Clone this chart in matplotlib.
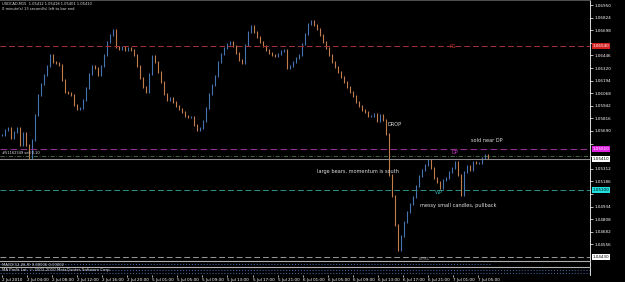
import numpy as np
import matplotlib.pyplot as plt

W, H = 625, 282

# USDCAD M15 closes (every ~2 bars)
closes = [
    1.0565, 1.0570, 1.0572, 1.0562, 1.0568, 1.0572, 1.0555, 1.0567, 1.0555, 1.0542,
    1.0560, 1.0585, 1.0605, 1.0616, 1.0625, 1.0634, 1.0645, 1.0638, 1.0637, 1.0635,
    1.0620, 1.0608, 1.0607, 1.0605, 1.0595, 1.0591, 1.0592, 1.0600, 1.0612, 1.0626,
    1.0634, 1.0632, 1.0625, 1.0634, 1.0645, 1.0658, 1.0665, 1.0670, 1.0653, 1.0651,
    1.0653, 1.0650, 1.0652, 1.0650, 1.0645, 1.0634, 1.0622, 1.0613, 1.0608, 1.0626,
    1.0644, 1.0638, 1.0628, 1.0618, 1.0606, 1.0600, 1.0602, 1.0598, 1.0594, 1.0591,
    1.0588, 1.0584, 1.0583, 1.0583, 1.0575, 1.0570, 1.0572, 1.0579, 1.0592, 1.0606,
    1.0615, 1.0624, 1.0638, 1.0646, 1.0652, 1.0656, 1.0658, 1.0654, 1.0647, 1.0640,
    1.0637, 1.0655, 1.0668, 1.0674, 1.0668, 1.0663, 1.0658, 1.0654, 1.0650, 1.0647,
    1.0645, 1.0644, 1.0646, 1.0649, 1.0650, 1.0632, 1.0634, 1.0638, 1.0642, 1.0645,
    1.0656, 1.0666, 1.0676, 1.0679, 1.0675, 1.0671, 1.0665, 1.0658, 1.0652, 1.0645,
    1.0638, 1.0633, 1.0628, 1.0623, 1.0618, 1.0613, 1.0608, 1.0604, 1.0598, 1.0594,
    1.0590, 1.0588, 1.0584, 1.0584, 1.0586, 1.0579, 1.0585, 1.0580, 1.0566, 1.0525,
    1.0504, 1.0475, 1.0450, 1.0464, 1.0478, 1.0488, 1.0496, 1.0503, 1.0514, 1.0524,
    1.0530, 1.0535, 1.0540, 1.0532, 1.0522, 1.0518, 1.0512, 1.0520, 1.0522, 1.0528,
    1.0532, 1.0538, 1.0525, 1.0505, 1.0528, 1.0534, 1.0530, 1.0538, 1.0537, 1.0537,
    1.0542, 1.0545, 1.0542,
]

price_ticks = [1.06950, 1.06824, 1.06698, 1.06572, 1.06446, 1.06320, 1.06194,
               1.06068, 1.05942, 1.05816, 1.05690, 1.05564, 1.05438, 1.05312,
               1.05186, 1.05060, 1.04934, 1.04808, 1.04682, 1.04556]

time_labels = ["2 Jul 2010", "2 Jul 04:00", "2 Jul 08:00", "2 Jul 12:00",
               "2 Jul 16:00", "2 Jul 20:00", "5 Jul 01:00", "5 Jul 05:00",
               "5 Jul 09:00", "5 Jul 13:00", "5 Jul 17:00", "5 Jul 21:00",
               "6 Jul 01:00", "6 Jul 05:00", "6 Jul 09:00", "6 Jul 13:00",
               "6 Jul 17:00", "6 Jul 21:00", "7 Jul 01:00", "7 Jul 05:00"]

# horizontal levels
r1_level = 1.0654
dp_level = 1.0551
order_level = 1.0544
bid_level = 1.0541
wp_level = 1.0510
s1_level = 1.0443


def fx(x):
    return x / W


def fy(y):
    return 1 - y / H


fig = plt.figure(figsize=(W / 100, H / 100), dpi=100, facecolor='black')
ax = fig.add_axes([0, fy(261), fx(590), 261 / H], facecolor='black')

n = len(closes)
c = np.array(closes)
o = np.r_[c[0], c[:-1]]
x = np.arange(n)
lo = np.minimum(o, c) - 0.0001
hi = np.maximum(o, c) + 0.0001
up = c >= o
ax.vlines(x[up], lo[up], hi[up], color='#4674b2', lw=0.8)
ax.vlines(x[~up], lo[~up], hi[~up], color='#c27d4a', lw=0.8)

ax.set_xlim(-2 / 3, 588 / 3)
ax.set_ylim(1.0439, 1.0700)

ax.axhline(r1_level, color='#a83232', ls=(0, (6, 3)), lw=0.7)
ax.axhline(dp_level, color='#8e2e8e', ls=(0, (6, 3)), lw=0.8)
ax.axhline(order_level, color='#4f7a4f', ls=(0, (5, 2, 1, 2)), lw=0.6)
ax.axhline(bid_level, color='#8a8a8a', ls='-', lw=0.8)
ax.axhline(wp_level, color='#2f8f8a', ls=(0, (6, 3)), lw=0.7)
ax.axhline(s1_level, color='#9a9a9a', ls=(0, (6, 3)), lw=0.7)

box_levels = [r1_level, dp_level, bid_level, wp_level, s1_level]
ax.yaxis.tick_right()
ax.set_yticks(price_ticks)
# labels hidden under the coloured price boxes are left blank
ax.set_yticklabels(["" if min(abs(p - b) for b in box_levels) < 0.0006 else f"{p:.5f}"
                    for p in price_ticks])
ax.tick_params(axis='y', colors='white', labelsize=3.0, length=2, width=0.5, pad=1)
ax.set_xticks([])
for s in ['left', 'bottom']:
    ax.spines[s].set_visible(False)
ax.spines['right'].set_color('white')
ax.spines['right'].set_linewidth(0.6)
ax.spines['top'].set_color('#606060')
ax.spines['top'].set_linewidth(1.2)

boxes = [(r1_level, '#d02020', 'white'), (dp_level, '#e020e0', 'white'),
         (bid_level, 'white', 'black'), (wp_level, '#20e0e0', 'black'),
         (s1_level, 'white', 'black')]
for p, bc, tc in boxes:
    ax.annotate(f"{p:.5f}", xy=(1.004, p), xycoords=('axes fraction', 'data'),
                fontsize=3.0, color=tc, va='center', ha='left',
                bbox=dict(boxstyle='square,pad=0.15', fc=bc, ec='none'))

txt = dict(color='#e0e0e0', fontsize=3.6, va='center', ha='left')
small = dict(color='#e0e0e0', fontsize=2.6, va='center', ha='left')
fig.text(fx(2), fy(4), "USDCAD,M15  1.05412 1.05418 1.05401 1.05410", **small)
fig.text(fx(2), fy(9), "0 minute(s) 13 second(s) left to bar end", **small)
fig.text(fx(2), fy(153), "#51162349 sell 0.10", **small)
fig.text(fx(388), fy(125), "DROP", **txt)
fig.text(fx(317), fy(171), "large bears, momentum is south", **txt)
fig.text(fx(471), fy(140), "sold near DP", **txt)
fig.text(fx(420), fy(205), "messy small candles, pullback", **txt)
fig.text(fx(450), fy(47), "R1", color='#c03030', fontsize=3.6, va='center', ha='left')
fig.text(fx(452), fy(152.5), "DP", color='#d030d0', fontsize=3.6, va='center', ha='left')
fig.text(fx(435), fy(193), "WP", color='#30b0b0', fontsize=3.6, va='center', ha='left')
fig.text(fx(419), fy(259), "Lo/S1", color='#a0a0a0', fontsize=3.0, va='center', ha='left')

# indicator sub-windows
sub1 = fig.add_axes([0, fy(267), fx(590), 6 / H], facecolor='black')
sub2 = fig.add_axes([0, fy(275), fx(590), 8 / H], facecolor='black')
for a in (sub1, sub2):
    a.set_xlim(ax.get_xlim())
    a.set_ylim(0, 1)
    a.set_yticks([])
    for s in ['left', 'bottom']:
        a.spines[s].set_visible(False)
    a.spines['top'].set_color('#b0b0b0')
    a.spines['top'].set_linewidth(0.8)
    a.spines['right'].set_color('white')
    a.spines['right'].set_linewidth(0.6)
sub1.set_xticks([])
sub1.axhline(0.45, xmax=0.83, color='#3d5f9e', ls=':', lw=0.8)
sub2.axhline(0.6, color='#3d5f9e', ls=':', lw=0.8)
sub2.axhline(0.25, color='#3d5f9e', ls=':', lw=0.8)
fig.text(fx(2), fy(264.5), "MACD(12,26,9) 0.00006 0.00002", color='#e0e0e0',
         fontsize=2.7, va='center', ha='left')
fig.text(fx(2), fy(270.5), "MA Profit Lot  © 2001-2010 MetaQuotes Software Corp.",
         color='#e0e0e0', fontsize=2.8, va='center', ha='left')

tick_pos = [k * 25.05 / 3 for k in range(len(time_labels))]
sub2.set_xticks(tick_pos)
sub2.set_xticklabels(time_labels, ha='left')
sub2.tick_params(axis='x', colors='white', labelsize=3.0, length=1.5, width=0.5, pad=0.5)

fig.savefig('out.png', dpi=100, facecolor='black')
